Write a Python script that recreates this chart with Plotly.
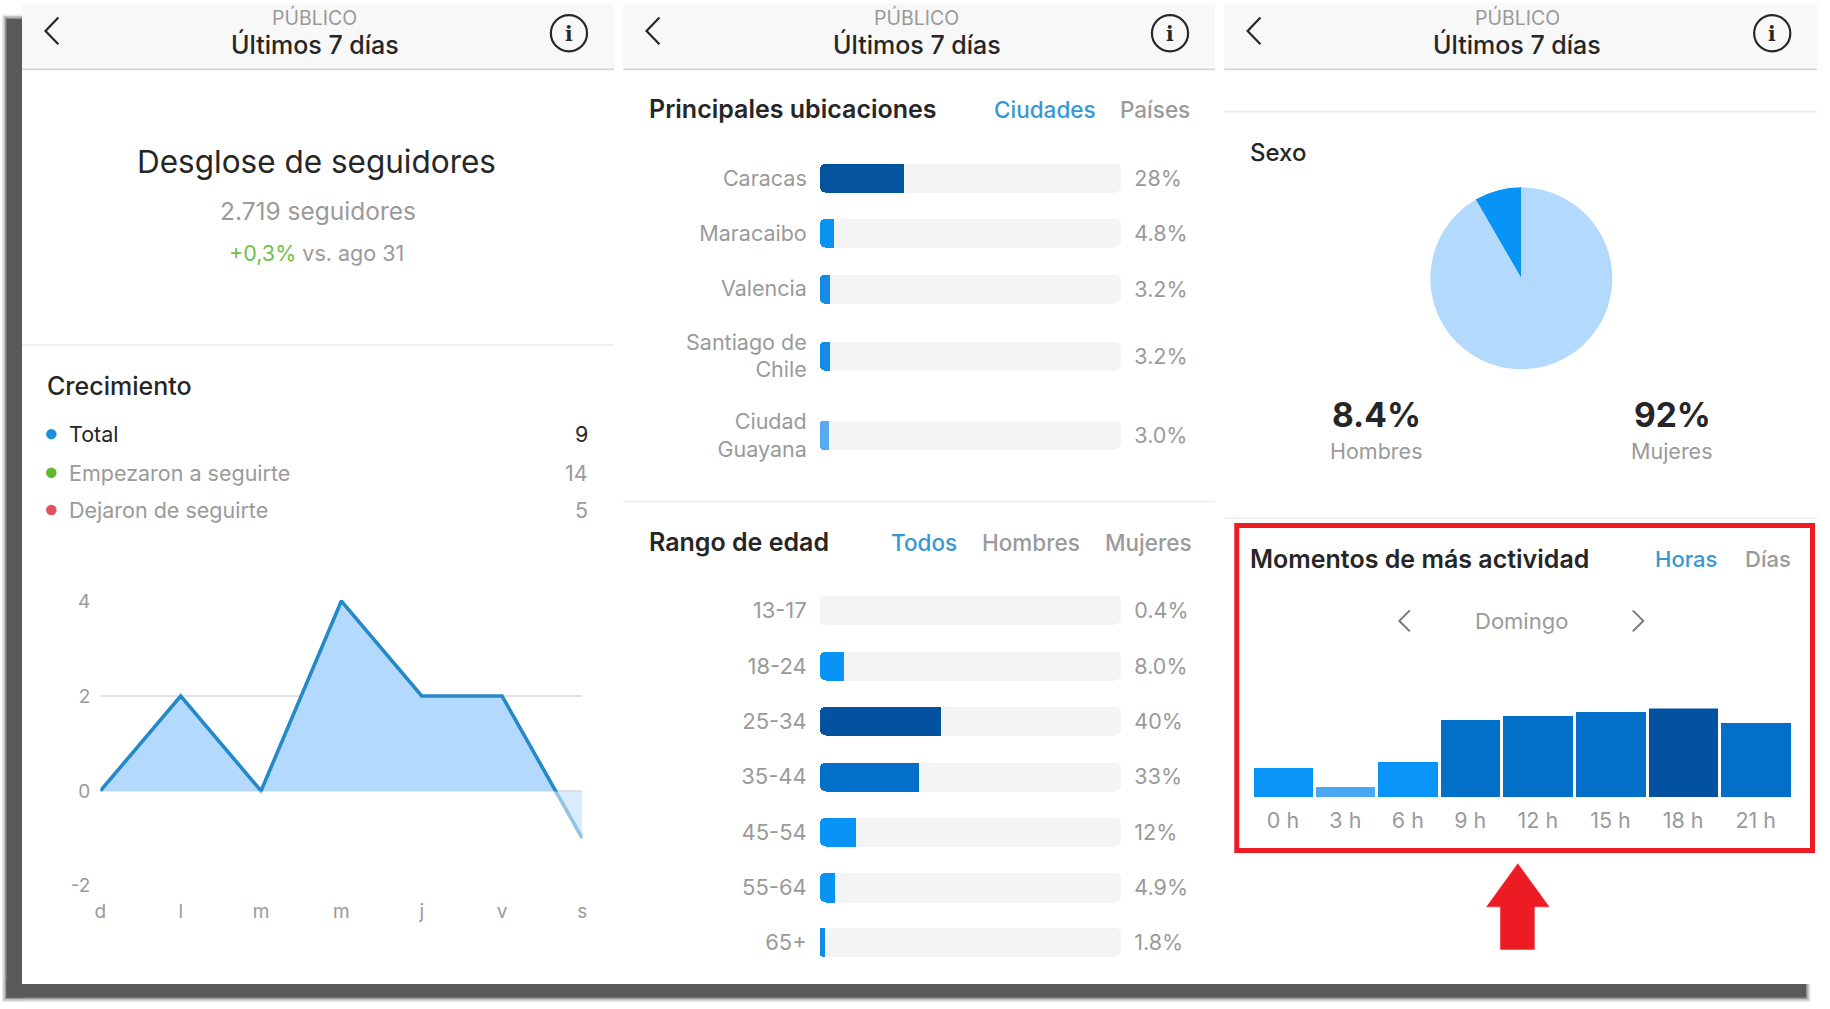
import plotly.graph_objects as go

# ---------- data ----------
growth_days = ["d", "l", "m", "m", "j", "v", "s"]
growth_values = [0, 2, 0, 4, 2, 2, -1]
growth_ticks = [4, 2, 0, -2]

legend_names = ["Total", "Empezaron a seguirte", "Dejaron de seguirte"]
legend_values = [9, 14, 5]

city_names = ["Caracas", "Maracaibo", "Valencia", "Santiago de<br>Chile", "Ciudad<br>Guayana"]
city_values = [28, 4.8, 3.2, 3.2, 3.0]
city_labels = ["28%", "4.8%", "3.2%", "3.2%", "3.0%"]

age_names = ["13-17", "18-24", "25-34", "35-44", "45-54", "55-64", "65+"]
age_values = [0.4, 8.0, 40, 33, 12, 4.9, 1.8]
age_labels = ["0.4%", "8.0%", "40%", "33%", "12%", "4.9%", "1.8%"]

sex_names = ["Hombres", "Mujeres"]
sex_values = [8.4, 92]
sex_labels = ["8.4%", "92%"]

hour_names = ["0 h", "3 h", "6 h", "9 h", "12 h", "15 h", "18 h", "21 h"]
hour_values = [32, 11, 39, 86, 91, 95, 100, 83]

# ---------- styles ----------
W, H = 1830, 1009
SX = SY = 1830 / 1568
FONT = "Inter"
DARK, GRAY, BLUE_TXT = "#262626", "#9a9a9a", "#3897d3"
city_colors = ["#03539f", "#0893f2", "#148ce6", "#148ce6", "#58aaf0"]
age_colors = ["#eef3f7", "#0893f7", "#03529f", "#0270c8", "#0893f7", "#0893f2", "#148ce6"]
hour_colors = ["#0895f7", "#4aa8f2", "#0895f7", "#0270c8", "#0270c8", "#0270c8", "#03529f", "#0270c8"]
hour_widths = [52, 52, 52, 52, 60.5, 60.5, 60.5, 60.5]
city_rows = [152.5, 200, 247.5, 305, 373]
age_rows = [523, 570.5, 618, 665.5, 713, 760.5, 807.5]
panels = [(19, 526), (534, 1041), (1049, 1557)]
TRACK_LEFT, TRACK_WIDTH = 702.4, 258.2   # track is 100% wide
X_MAX = 125                              # axis continues so that the value labels fit
LABEL_DROP = 2                           # value labels sit slightly below the bar centre


def px(x):
    return x * SX / W


def py(y):
    return 1 - y * SY / H


shapes, annos = [], []


def rect(x0, y0, x1, y1, fill, raw=False):
    k = (1, 1) if raw else (SX, SY)
    shapes.append(dict(type="rect", xref="paper", yref="paper", x0=x0 * k[0] / W, x1=x1 * k[0] / W,
                       y0=1 - y0 * k[1] / H, y1=1 - y1 * k[1] / H, fillcolor=fill, line_width=0, layer="below"))


def path(points, color, width=2.5, fill=None):
    d = "M" + " L".join(f"{px(a)},{py(b)}" for a, b in points)
    if fill:
        d += " Z"
    shapes.append(dict(type="path", xref="paper", yref="paper", path=d, fillcolor=fill,
                       line=dict(color=color, width=width)))


def text(x, y, s, size, color=DARK, anchor="center", weight=400):
    shift = {"left": -2, "right": 2}.get(anchor, 0)
    annos.append(dict(xref="paper", yref="paper", x=px(x), y=py(y), text=s, showarrow=False,
                      xanchor=anchor, yanchor="middle", xshift=shift,
                      font=dict(family=FONT, size=size, color=color, weight=weight)))


# device frame: soft shadow, then core band, then white page
for d, c in [(4.5, "#e8e8e8"), (3, "#c4c4c4"), (1.5, "#939393"), (0, "#595959")]:
    rect(6.5 - d, 19 - d, 24, 997.5 + d, c, raw=True)
    rect(6.5 - d, 980, 1806 + d, 997.5 + d, c, raw=True)
rect(22, 0, 1830, 984, "white", raw=True)

# headers
for a, b in panels:
    rect(a, 3, b, 59, "#f8f8f8")
    rect(a, 58.6, b, 60.2, "#d6d6d6")
    mid = (a + b) / 2 - 3 + (1 if a == 534 else 0)
    text(mid, 15, "PÚBLICO", 19.5, GRAY)
    text(mid, 38.5, "Últimos 7 días", 25, DARK, weight=500)
    path([(a + 31, 15), (a + 20, 26.5), (a + 31, 38)], "#262626", 2.2)
    shapes.append(dict(type="circle", xref="paper", yref="paper", x0=px(b - 54), x1=px(b - 23),
                       y0=py(13), y1=py(44), line=dict(color="#262626", width=2.2)))
    annos.append(dict(xref="paper", yref="paper", x=px(b - 38.5), y=py(29), text="i", showarrow=False,
                      xanchor="center", yanchor="middle",
                      font=dict(family="DejaVu Serif", size=20, color="#262626", weight=700)))

# section dividers
rect(19, 295, 526, 296.5, "#eeeeee")
rect(534, 429, 1041, 430.5, "#eeeeee")
rect(1049, 95, 1557, 96.5, "#eeeeee")
rect(1049, 443, 1557, 444.5, "#eeeeee")

# panel 1 text
text(271.5, 138, "Desglose de seguidores", 31.5, DARK)
text(272.5, 181, "2.719 seguidores", 24.5, GRAY)
text(271.5, 217, "<span style='color:#6cc24a'>+0,3%</span> vs. ago 31", 21.5, GRAY)
text(40, 331, "Crecimiento", 25, DARK, "left", 500)
for i, (n, v, c, tc, yy) in enumerate(zip(legend_names, legend_values,
                                          ["#1c8fdc", "#5fb82e", "#e2505f"],
                                          [DARK, GRAY, GRAY], [372, 405, 437])):
    shapes.append(dict(type="circle", xref="paper", yref="paper", x0=px(39.5), x1=px(48.5),
                       y0=py(yy - 4.5), y1=py(yy + 4.5), fillcolor=c, line_width=0))
    text(59, yy, n, 21.5, tc, "left")
    text(504, yy, str(v), 21.5, tc, "right")

# panel 2 text
text(556, 93.5, "Principales ubicaciones", 25, DARK, "left", 600)
text(895, 93.5, "Ciudades", 22.5, BLUE_TXT, weight=500)
text(990, 93.5, "Países", 22.5, GRAY, weight=500)
text(556, 464.5, "Rango de edad", 25, DARK, "left", 600)
text(792, 464.5, "Todos", 22.5, BLUE_TXT, weight=500)
text(883, 464.5, "Hombres", 22.5, GRAY, weight=500)
text(984, 464.5, "Mujeres", 22.5, GRAY, weight=500)

# panel 3 text
text(1071, 131, "Sexo", 24, DARK, "left", 500)
for xc, lab, n in zip([1179, 1433], sex_labels, sex_names):
    text(xc, 356, lab, 33.5, DARK, weight=700)
    text(xc, 386.5, n, 21.5, GRAY)
text(1071, 479, "Momentos de más actividad", 25, DARK, "left", 600)
text(1445, 479, "Horas", 22, BLUE_TXT, weight=500)
text(1515, 479, "Días", 22, GRAY, weight=500)
text(1303.5, 532, "Domingo", 22, GRAY)
path([(1208, 523), (1199, 532), (1208, 541)], "#777777", 2)
path([(1399, 523), (1408, 532), (1399, 541)], "#777777", 2)

# annotation marks
shapes.append(dict(type="rect", xref="paper", yref="paper", x0=px(1059.7), x1=px(1553), y0=py(450.3), y1=py(728.7),
                   line=dict(color="#ed1c24", width=5)))
path([(1300.5, 740), (1327.3, 777), (1314.7, 777), (1314.7, 813.5), (1285.6, 813.5), (1285.6, 777), (1273.8, 777)],
     "#ed1c24", 0.5, "#ed1c24")

fig = go.Figure()

# growth area chart
fig.add_trace(go.Scatter(x=list(range(7)), y=growth_values, mode="lines", fill="tozeroy",
                         fillcolor="#b3d9fc", line=dict(color="#2489c9", width=3.6), cliponaxis=False,
                         xaxis="x", yaxis="y", showlegend=False))
shapes.append(dict(type="rect", xref="x", yref="y", x0=0, x1=6.02, y0=-1.15, y1=-0.012,
                   fillcolor="rgba(255,255,255,0.5)", line_width=0, layer="above"))


def bars(values, labels, colors, rows, xa, ya):
    n = len(values)
    # grey track: two overlapping rounded pieces
    for lo, hi in ((0, 60), (40, 100)):
        fig.add_trace(go.Bar(y=rows, x=[hi - lo] * n, base=[lo] * n, orientation="h", width=25,
                             marker=dict(color="#f4f4f4", cornerradius=6, line_width=0),
                             xaxis=xa, yaxis=ya, showlegend=False))
    # value bar: rounded left end, square right end
    fig.add_trace(go.Bar(y=rows, x=values, base=[0] * n, orientation="h", width=25,
                         marker=dict(color=colors, cornerradius=6, line_width=0),
                         xaxis=xa, yaxis=ya, showlegend=False))
    fig.add_trace(go.Bar(y=rows, x=[v / 2 for v in values], base=[v / 2 for v in values], orientation="h", width=25,
                         marker=dict(color=colors, line_width=0),
                         xaxis=xa, yaxis=ya, showlegend=False))
    fig.add_trace(go.Scatter(y=[r + LABEL_DROP for r in rows], x=[104.4] * n, text=labels, mode="text",
                             textposition="middle right",
                             textfont=dict(family=FONT, size=21.5, color=GRAY), cliponaxis=False,
                             xaxis=xa, yaxis=ya, showlegend=False))


bars(city_values, city_labels, city_colors, city_rows, "x2", "y2")
bars(age_values, age_labels, age_colors, age_rows, "x3", "y3")

# gender pie
fig.add_trace(go.Pie(labels=sex_names, values=sex_values, sort=False, textinfo="none", direction="clockwise",
                     rotation=-30.1, marker=dict(colors=["#0893f7", "#b3d9fc"], line_width=0),
                     domain=dict(x=[px(1303.5) - 91 / W, px(1303.5) + 91 / W],
                                 y=[py(238.5) - 91 / H, py(238.5) + 91 / H]),
                     showlegend=False))

# hourly columns
left = 0
centres = []
for w in hour_widths:
    centres.append(left + w / 2)
    left += w
fig.add_trace(go.Bar(x=centres, y=hour_values, width=[w - 2.6 for w in hour_widths],
                     marker=dict(color=hour_colors, line_width=0), xaxis="x4", yaxis="y4", showlegend=False))


def tick_font(size=21.5):
    return dict(family=FONT, size=size, color=GRAY)


track_domain = [px(TRACK_LEFT), px(TRACK_LEFT + TRACK_WIDTH * X_MAX / 100)]
hidden_x = dict(range=[0, X_MAX], showgrid=False, zeroline=False, showticklabels=False, fixedrange=True,
                automargin=False)
plain = dict(automargin=False, zeroline=False, showgrid=False, ticks="")

fig.update_layout(
    template="none",
    width=W, height=H, margin=dict(l=0, r=0, t=0, b=0, autoexpand=False), paper_bgcolor="white",
    plot_bgcolor="rgba(0,0,0,0)",
    barmode="overlay", bargap=0, shapes=shapes, annotations=annos, showlegend=False, hovermode=False,
    xaxis=dict(domain=[px(86), px(499)], range=[0, 6], tickvals=list(range(7)), ticktext=growth_days,
               tickfont=tick_font(19), ticklabelstandoff=11, anchor="y", **plain),
    yaxis=dict(domain=[py(759.8), py(514.2)], range=[-2.02, 4.02], tickvals=growth_ticks,
               ticktext=[str(v) for v in growth_ticks], gridcolor="#e3e3e3", gridwidth=1.6, zeroline=False,
               showgrid=True, automargin=False,
               tickfont=tick_font(19), ticks="", ticklabelstandoff=9, anchor="x"),
    xaxis2=dict(domain=track_domain, anchor="y2", **hidden_x),
    yaxis2=dict(domain=[py(395), py(130)], range=[395, 130], tickvals=city_rows, ticktext=city_names,
                tickfont=tick_font(), ticklabelstandoff=12, anchor="x2", **plain),
    xaxis3=dict(domain=track_domain, anchor="y3", **hidden_x),
    yaxis3=dict(domain=[py(830), py(500)], range=[830, 500], tickvals=age_rows, ticktext=age_names,
                tickfont=tick_font(22), ticklabelstandoff=12, anchor="x3", **plain),
    xaxis4=dict(domain=[px(1072.5), px(1535.5)], range=[0, sum(hour_widths)], tickvals=centres, ticktext=hour_names,
                tickfont=tick_font(), ticklabelstandoff=8, anchor="y4", **plain),
    yaxis4=dict(domain=[py(683), py(607)], range=[0, 100], showticklabels=False, anchor="x4", **plain),
)

fig.write_html("out.html", config=dict(displayModeBar=False),
               post_script="document.body.style.margin='0';document.body.style.overflow='hidden';")
